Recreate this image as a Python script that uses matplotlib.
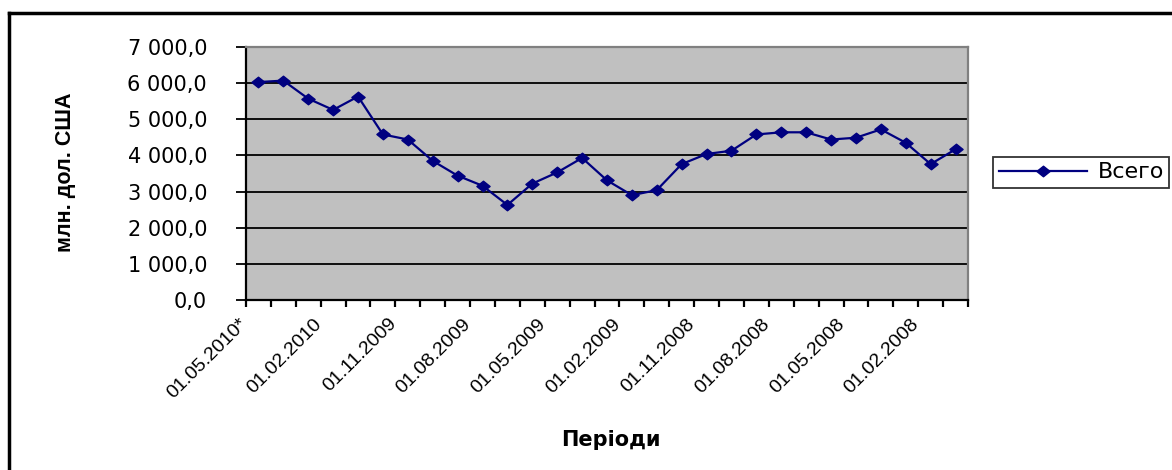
import matplotlib
matplotlib.use("Agg")
import matplotlib.pyplot as plt
from matplotlib.lines import Line2D
from matplotlib.ticker import FixedLocator, FuncFormatter
from matplotlib.transforms import ScaledTranslation
from matplotlib.path import Path

plt.rcParams['font.family'] = ['DejaVu Sans']

tick_labels = ["01.05.2010*", "01.02.2010", "01.11.2009", "01.08.2009", "01.05.2009",
               "01.02.2009", "01.11.2008", "01.08.2008", "01.05.2008", "01.02.2008"]
values = [6030, 6070, 5570, 5260, 5630, 4580, 4440, 3850, 3440, 3160,
          2630, 3220, 3530, 3930, 3310, 2900, 3040, 3760, 4040, 4130,
          4580, 4640, 4640, 4440, 4490, 4720, 4350, 3760, 4170]
series_name = "Всего"
y_label = "млн. дол. США"
x_label = "Періоди"

W, H = 1172, 470
fig = plt.figure(figsize=(W / 100, H / 100), dpi=100)
ax = fig.add_axes([246 / W, 1 - 300 / H, (968 - 246) / W, (300 - 47) / H])
ax.set_facecolor('#C0C0C0')

# wide diamond (picture is stretched horizontally)
diamond = Path([(-1, 0), (0, 0.8), (1, 0), (0, -0.8), (-1, 0)],
               [Path.MOVETO, Path.LINETO, Path.LINETO, Path.LINETO, Path.CLOSEPOLY])

n = len(values)
xs = list(range(n))
navy = '#000080'
ax.plot(xs, values, color=navy, lw=1.6, marker=diamond, ms=9.5, mfc=navy, mec=navy,
        label=series_name, zorder=3)

ax.set_xlim(-0.5, n - 0.5)
ax.set_ylim(0, 7000)
ax.set_yticks(range(0, 7001, 1000))
ax.yaxis.set_major_formatter(FuncFormatter(
    lambda v, p: f"{v:,.1f}".replace(",", " ").replace(".", ",")))
ax.grid(axis='y', color='black', lw=1.3, zorder=1)
ax.set_axisbelow(True)

# category ticks between categories, labels every 3rd category
ax.xaxis.set_major_locator(FixedLocator([i - 0.5 for i in range(n + 1)]))
ax.set_xticklabels([])
ax.set_xticks([3 * k for k in range(len(tick_labels))], minor=True)
ax.set_xticklabels(tick_labels, minor=True, rotation=45, ha='right', va='top',
                   rotation_mode='anchor', fontsize=14,
                   family=['Liberation Sans', 'DejaVu Sans'])
ax.tick_params(axis='x', which='minor', length=0, pad=11)
ax.tick_params(axis='x', which='major', length=5, width=1.6, direction='out', color='black')
ax.tick_params(axis='y', length=7, width=1.3, direction='out', labelsize=15, pad=21)
shift = ScaledTranslation(-20 / 100, 0, fig.dpi_scale_trans)
for lbl in ax.get_xticklabels(minor=True):
    lbl.set_transform(lbl.get_transform() + shift)

for s in ['left', 'bottom']:
    ax.spines[s].set_color('black')
    ax.spines[s].set_linewidth(1.6)
for s in ['top', 'right']:
    ax.spines[s].set_color('#808080')
    ax.spines[s].set_linewidth(1.6)

fig.text(65 / W, 1 - 172 / H, y_label, rotation=90, ha='center', va='center',
         fontsize=15.5, fontweight='bold', family=['Liberation Sans', 'DejaVu Sans'])
fig.text(611 / W, 1 - 440 / H, x_label, ha='center', va='center',
         fontsize=15, fontweight='bold')

leg = fig.legend(handles=[Line2D([0], [0], color=navy, lw=1.6, marker=diamond, ms=9.5,
                                 mfc=navy, mec=navy)],
                 labels=[series_name], loc='center left',
                 bbox_to_anchor=(993 / W, 1 - 172.5 / H), frameon=True, fancybox=False,
                 edgecolor='black', fontsize=16, handlelength=4.0, borderpad=0.25,
                 handletextpad=0.45, borderaxespad=0)
leg.get_frame().set_linewidth(1.3)

# outer chart border (left and top visible)
fig.add_artist(Line2D([9.5 / W, 9.5 / W], [0, 1 - 13 / H], color='black', lw=2.5,
                      transform=fig.transFigure))
fig.add_artist(Line2D([9.5 / W, 1], [1 - 13 / H, 1 - 13 / H], color='black', lw=2.5,
                      transform=fig.transFigure))

fig.savefig('out.png', dpi=100)
